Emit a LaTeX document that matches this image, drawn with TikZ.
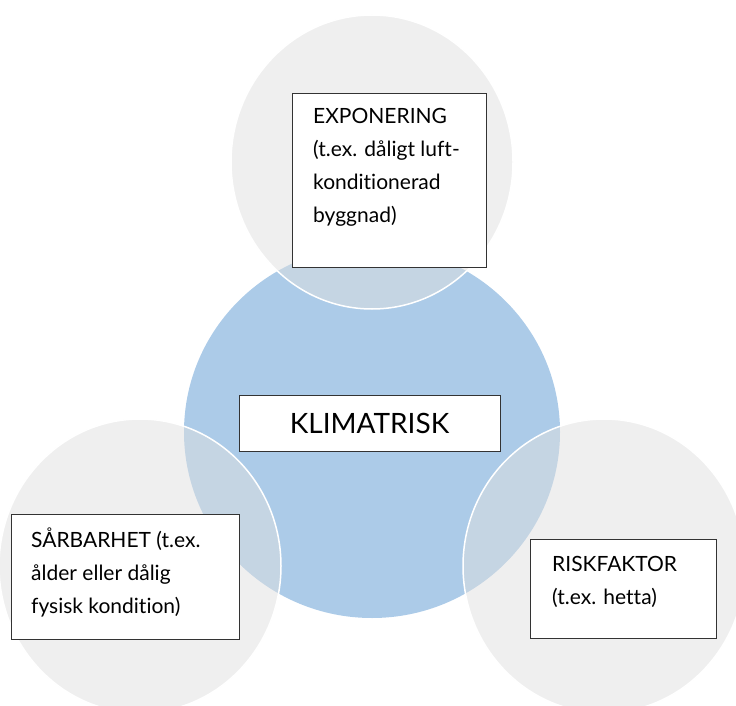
\documentclass[tikz,border=0pt]{standalone}
\usepackage{fontspec}
\setmainfont{Lato}[Ligatures=NoCommon]
\definecolor{klimblue}{RGB}{172,203,232}
\definecolor{venngray}{RGB}{223,223,223}
\tikzset{
  venn/.style={fill=venngray, fill opacity=0.5, draw=white, line width=1.5pt},
  txtbox/.style={draw=black!80, fill=white, line width=0.9pt, anchor=north west, inner sep=0pt},
  txt/.style={anchor=base west, inner sep=0pt, font=\fontsize{21}{33}\selectfont},
}

\begin{document}
\begin{tikzpicture}[x=1pt,y=-1pt]
    \useasboundingbox (0,0) rectangle (736,706);
    \clip (0,0) rectangle (736,706);
    % circles
    \fill[klimblue] (372,432) ellipse [x radius=188, y radius=186];
    \path[venn] (372,162) ellipse [x radius=141, y radius=147];
    \path[venn] (140,566) ellipse [x radius=141, y radius=147];
    \path[venn] (604,566) ellipse [x radius=141, y radius=147];
    % boxes
    \node[txtbox, minimum width=194, minimum height=174] (expo) at (292,93) {};
    \node[txt] (expotxt) at (313,124) {\parbox[t]{170pt}{EXPONERING\\(t.ex. dåligt luft-\\konditionerad\\byggnad)}};
    \node[txtbox, anchor=center, minimum width=261, minimum height=56,
          font=\fontsize{28}{32}\selectfont] (klim) at (369.5,423) {KLIMATRISK};
    \node[txtbox, minimum width=228, minimum height=125] (sarb) at (11,514) {};
    \node[txt] (sarbtxt) at (31,547) {\parbox[t]{200pt}{SÅRBARHET (t.ex.\\ålder eller dålig\\fysisk kondition)}};
    \node[txtbox, minimum width=186, minimum height=99] (risk) at (530,539) {};
    \node[txt] (risktxt) at (552,571) {\parbox[t]{160pt}{RISKFAKTOR\\(t.ex. hetta)}};
\end{tikzpicture}
\end{document}
